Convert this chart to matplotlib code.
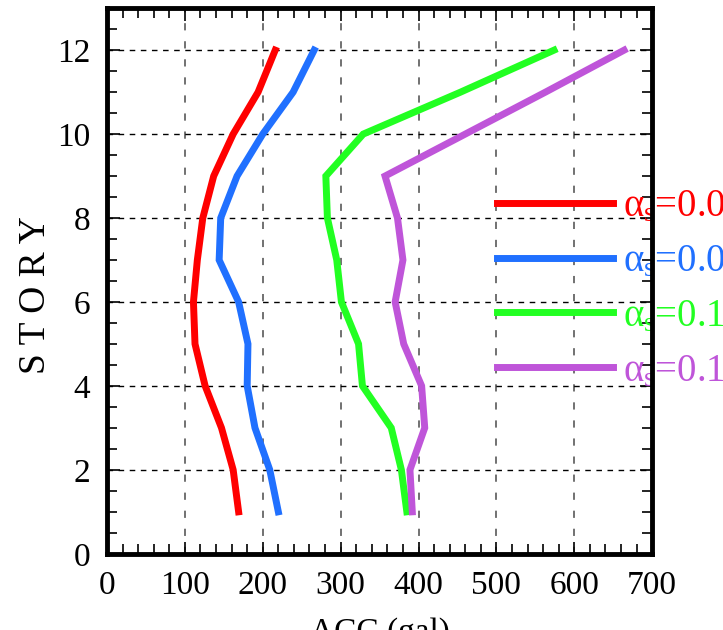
import matplotlib
matplotlib.use('Agg')
import matplotlib.pyplot as plt
from matplotlib.ticker import MultipleLocator

plt.rcParams['font.family'] = ['Liberation Serif', 'DejaVu Serif']
plt.rcParams['mathtext.fontset'] = 'custom'
plt.rcParams['mathtext.rm'] = 'Liberation Serif'
plt.rcParams['mathtext.it'] = 'Liberation Serif'

# story levels and peak accelerations (gal)
story = [1, 2, 3, 4, 5, 6, 7, 8, 9, 10, 11, 12]
acc_a = [169, 162, 147, 126, 113, 111, 116, 123, 137, 162, 194, 216]
acc_b = [220, 209, 190, 180, 181, 169, 144, 146, 167, 200, 239, 266]
acc_c = [385, 378, 365, 328, 323, 301, 295, 283, 281, 329, 454, 574]
acc_d = [392, 389, 408, 404, 381, 370, 380, 373, 357, 460, 563, 664]

labels = [r'$\alpha_s$=0.02', r'$\alpha_s$=0.05', r'$\alpha_s$=0.10', r'$\alpha_s$=0.15']
colors = ['#ff0000', '#2070ff', '#22ff22', '#bf55d9']

fig = plt.figure(figsize=(7.23, 6.3), dpi=100)
ax = fig.add_axes([0.148, 0.121, 0.754, 0.866])

for acc, lab, col in zip([acc_a, acc_b, acc_c, acc_d], labels, colors):
    ax.plot(acc, story, color=col, lw=5, label=lab, clip_on=True,
            solid_joinstyle='miter', zorder=3)

ax.set_xlim(0, 700)
ax.set_ylim(0, 13)
ax.set_xticks(range(0, 701, 100))
ax.set_yticks(range(0, 13, 2))
ax.xaxis.set_minor_locator(MultipleLocator(20))
ax.yaxis.set_minor_locator(MultipleLocator(0.5))

ax.tick_params(which='both', direction='in', top=True, right=True, width=1.2, colors='black')
ax.tick_params(which='major', length=9, labelsize=24, pad=12)
ax.tick_params(which='minor', length=7)

ax.xaxis.grid(True, which='major', color='#666666', ls=(0, (4, 6)), lw=1.3)
ax.yaxis.grid(True, which='major', color='black', ls=(0, (4, 4)), lw=1.0)

for sp in ax.spines.values():
    sp.set_linewidth(3.5)
    sp.set_zorder(5)

ax.set_ylabel('S T O R Y', fontsize=27)
ax.yaxis.set_label_coords(-0.099, 0.474)
ax.set_xlabel('ACC (gal)', fontsize=24, labelpad=12)

leg = ax.legend(loc='upper left', bbox_to_anchor=(0.716, 0.670), frameon=False,
                fontsize=28, handlelength=2.98, handletextpad=0.26,
                labelspacing=0.46, borderpad=0, borderaxespad=0)
for txt, col in zip(leg.get_texts(), colors):
    txt.set_color(col)
leg.set_zorder(4)

fig.savefig('out.png', dpi=100)
